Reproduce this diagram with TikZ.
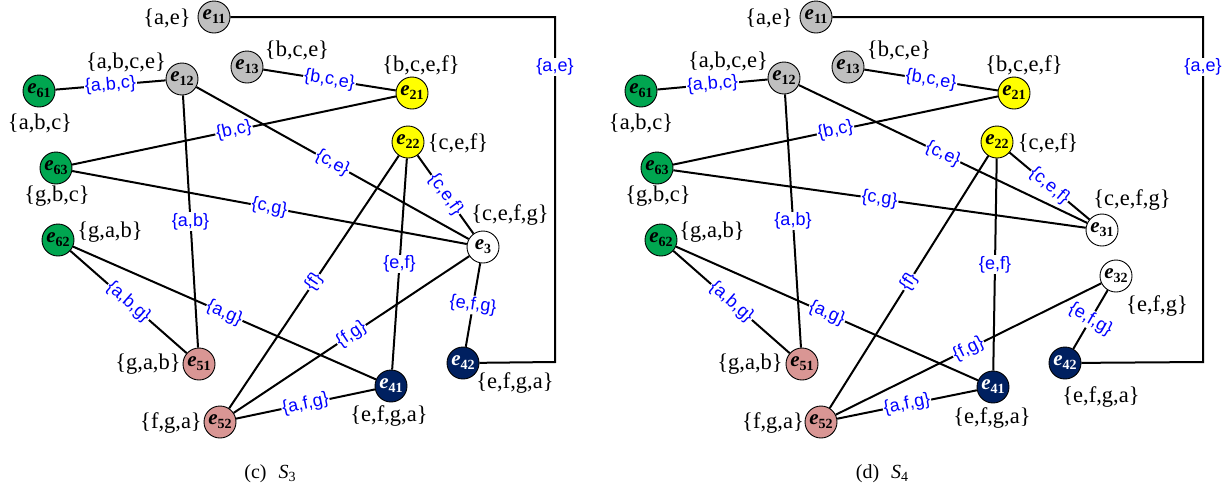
\documentclass[tikz,border=0pt]{standalone}
\usepackage{fontspec}
\setmainfont{Liberation Serif}
\newfontfamily\lsans{Liberation Sans}
\definecolor{cgray}{RGB}{191,191,191}
\definecolor{cgreen}{RGB}{0,166,80}
\definecolor{cyellow}{RGB}{255,255,0}
\definecolor{cpink}{RGB}{217,150,148}
\definecolor{cnavy}{RGB}{0,32,96}
\definecolor{cblue}{RGB}{0,0,255}
\newcommand\nd[1]{\fontsize{21}{21}\selectfont\textbf{\textit{e}}\raisebox{-4pt}{\fontsize{14}{14}\selectfont\textbf{#1}}}
\tikzset{
  vert/.style={circle,draw=black,line width=0.9pt,minimum size=32pt,inner sep=0pt,text=black},
  vgray/.style={vert,fill=cgray},
  vgreen/.style={vert,fill=cgreen},
  vyellow/.style={vert,fill=cyellow},
  vpink/.style={vert,fill=cpink},
  vnavy/.style={vert,fill=cnavy,text=white},
  vwhite/.style={vert,fill=white},
  setlab/.style={inner sep=0pt,font=\fontsize{22.5}{22.5}\selectfont,text=black},
  elab/.style={fill=white,inner sep=1pt,font=\lsans\fontsize{18}{18}\selectfont,text=cblue,pos=0.5},
  edge/.style={line width=2pt,black},
  captext/.style={inner sep=0pt,font=\fontsize{20}{20}\selectfont}
}
\begin{document}
\begin{tikzpicture}[x=1pt,y=-1pt]
\useasboundingbox (0,0) rectangle (1232,491);
% ---------- left diagram (c) ----------
\coordinate (ac1) at (555,17);
\coordinate (ac2) at (555,362);
\node[vgray]   (a11) at (214,17)  {\nd{11}};
\node[vgray]   (a12) at (182,79)  {\nd{12}};
\node[vgray]   (a13) at (247,67)  {\nd{13}};
\node[vgreen]  (a61) at (39,91)   {\nd{61}};
\node[vgreen]  (a63) at (56,168)  {\nd{63}};
\node[vyellow] (a21) at (412,93)  {\nd{21}};
\node[vyellow] (a22) at (408,142) {\nd{22}};
\node[vwhite]  (a3)  at (483,247) {\nd{3}};
\node[vnavy]   (a42) at (463,363) {\nd{42}};
\node[vnavy]   (a41) at (391,386) {\nd{41}};
\node[vgreen]  (a62) at (58,240)  {\nd{62}};
\node[vpink]   (a51) at (199,364) {\nd{51}};
\node[vpink]   (a52) at (220,422) {\nd{52}};
\node[setlab] (la11) at (167,18)  {\{a,e\}};
\node[setlab] (la12) at (126,62)  {\{a,b,c,e\}};
\node[setlab] (la13) at (297,50)  {\{b,c,e\}};
\node[setlab] (la61) at (40,123)  {\{a,b,c\}};
\node[setlab] (la21) at (421,65)  {\{b,c,e,f\}};
\node[setlab] (la22) at (458,143) {\{c,e,f\}};
\node[setlab] (la63) at (57,196)  {\{g,b,c\}};
\node[setlab] (la3)  at (510,215) {\{c,e,f,g\}};
\node[setlab] (la62) at (110,232) {\{g,a,b\}};
\node[setlab] (la51) at (148,364) {\{g,a,b\}};
\node[setlab] (la52) at (171,423) {\{f,g,a\}};
\node[setlab] (la41) at (389,416) {\{e,f,g,a\}};
\node[setlab] (la42) at (515,383) {\{e,f,g,a\}};
% edges
\draw[edge] (a61) -- node[elab,sloped] {\{a,b,c\}} (a12);
\draw[edge] (a13) -- node[elab,sloped] {\{b,c,e\}} (a21);
\draw[edge] (a63) -- node[elab,sloped] {\{b,c\}} (a21);
\draw[edge] (a12) -- node[elab,sloped] {\{c,e\}} (a3);
\draw[edge] (a22) -- node[elab,sloped] {\{c,e,f\}} (a3);
\draw[edge] (a63) -- node[elab,sloped] {\{c,g\}} (a3);
\draw[edge] (a12) -- node[elab] {\{a,b\}} (a51);
\draw[edge] (a22) -- node[elab] {\{e,f\}} (a41);
\draw[edge] (a22) -- node[elab,sloped] {\{f\}} (a52);
\draw[edge] (a3)  -- node[elab,rotate=-8] {\{e,f,g\}} (a42);
\draw[edge] (a62) -- node[elab,sloped] {\{a,b,g\}} (a51);
\draw[edge] (a62) -- node[elab,sloped] {\{a,g\}} (a41);
\draw[edge] (a3)  -- node[elab,sloped] {\{f,g\}} (a52);
\draw[edge] (a52) -- node[elab,sloped] {\{a,f,g\}} (a41);
\draw[edge] (a11) -- (ac1) -- node[elab,pos=0.145] {\{a,e\}} (ac2) -- (a42);
\node[captext] (capc) at (270,474) {(c)\hspace{0.6em}\textit{S}\raisebox{-3pt}{\fontsize{14}{14}\selectfont 3}};
% ---------- right diagram (d) ----------
\coordinate (bc1) at (1203,17);
\coordinate (bc2) at (1203,362);
\node[vgray]   (b11) at (816,17)   {\nd{11}};
\node[vgray]   (b12) at (784,78)   {\nd{12}};
\node[vgray]   (b13) at (848,67)   {\nd{13}};
\node[vgreen]  (b61) at (641,91)   {\nd{61}};
\node[vgreen]  (b63) at (657,168)  {\nd{63}};
\node[vyellow] (b21) at (1014,93)  {\nd{21}};
\node[vyellow] (b22) at (997,142)  {\nd{22}};
\node[vwhite]  (b31) at (1102,230) {\nd{31}};
\node[vwhite]  (b32) at (1116,276) {\nd{32}};
\node[vnavy]   (b42) at (1065,363) {\nd{42}};
\node[vnavy]   (b41) at (993,387)  {\nd{41}};
\node[vgreen]  (b62) at (661,240)  {\nd{62}};
\node[vpink]   (b51) at (802,364)  {\nd{51}};
\node[vpink]   (b52) at (821,422)  {\nd{52}};
\node[setlab] (lb11) at (769,18)   {\{a,e\}};
\node[setlab] (lb12) at (728,61)   {\{a,b,c,e\}};
\node[setlab] (lb13) at (899,50)   {\{b,c,e\}};
\node[setlab] (lb61) at (641,123)  {\{a,b,c\}};
\node[setlab] (lb21) at (1024,65)  {\{b,c,e,f\}};
\node[setlab] (lb22) at (1048,143) {\{c,e,f\}};
\node[setlab] (lb63) at (658,196)  {\{g,b,c\}};
\node[setlab] (lb31) at (1132,200) {\{c,e,f,g\}};
\node[setlab] (lb32) at (1157,306) {\{e,f,g\}};
\node[setlab] (lb62) at (712,232)  {\{g,a,b\}};
\node[setlab] (lb51) at (750,364)  {\{g,a,b\}};
\node[setlab] (lb52) at (773,423)  {\{f,g,a\}};
\node[setlab] (lb41) at (992,418)  {\{e,f,g,a\}};
\node[setlab] (lb42) at (1101,397) {\{e,f,g,a\}};
\draw[edge] (b61) -- node[elab,sloped] {\{a,b,c\}} (b12);
\draw[edge] (b13) -- node[elab,sloped] {\{b,c,e\}} (b21);
\draw[edge] (b63) -- node[elab,sloped] {\{b,c\}} (b21);
\draw[edge] (b12) -- node[elab,sloped] {\{c,e\}} (b31);
\draw[edge] (b22) -- node[elab,sloped] {\{c,e,f\}} (b31);
\draw[edge] (b63) -- node[elab,sloped] {\{c,g\}} (b31);
\draw[edge] (b12) -- node[elab] {\{a,b\}} (b51);
\draw[edge] (b22) -- node[elab] {\{e,f\}} (b41);
\draw[edge] (b22) -- node[elab,sloped] {\{f\}} (b52);
\draw[edge] (b32) -- node[elab,rotate=-30] {\{e,f,g\}} (b42);
\draw[edge] (b62) -- node[elab,sloped] {\{a,b,g\}} (b51);
\draw[edge] (b62) -- node[elab,sloped] {\{a,g\}} (b41);
\draw[edge] (b32) -- node[elab,sloped] {\{f,g\}} (b52);
\draw[edge] (b52) -- node[elab,sloped] {\{a,f,g\}} (b41);
\draw[edge] (b11) -- (bc1) -- node[elab,pos=0.145] {\{a,e\}} (bc2) -- (b42);
\node[captext] (capd) at (882,474) {(d)\hspace{0.6em}\textit{S}\raisebox{-3pt}{\fontsize{14}{14}\selectfont 4}};
\end{tikzpicture}
\end{document}
